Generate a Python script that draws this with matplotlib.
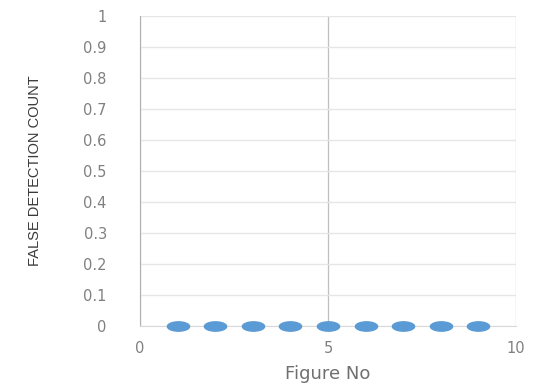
import numpy as np
import matplotlib
matplotlib.use("Agg")
import matplotlib.pyplot as plt
from matplotlib.path import Path

figure_no = [1, 2, 3, 4, 5, 6, 7, 8, 9]
false_detections = [0, 0, 0, 0, 0, 0, 0, 0, 0]
y_ticks = [0, 0.1, 0.2, 0.3, 0.4, 0.5, 0.6, 0.7, 0.8, 0.9, 1]
y_tick_labels = ["0", "0.1", "0.2", "0.3", "0.4", "0.5", "0.6", "0.7", "0.8", "0.9", "1"]
x_ticks = [0, 5, 10]

# wide, flat ellipse marker (the original picture is stretched horizontally)
t = np.linspace(0, 2 * np.pi, 60)
ellipse = Path(np.column_stack([np.cos(t), 0.42 * np.sin(t)]))

fig = plt.figure(figsize=(5.43, 3.89), dpi=100)
ax = fig.add_axes([0.258, 0.162, 0.692, 0.797])

ax.plot(figure_no, false_detections, linestyle="none", marker=ellipse,
        markersize=16, color="#5b9bd5", zorder=3, clip_on=False)

ax.set_xlim(0, 10)
ax.set_ylim(0, 1)
ax.set_xticks(x_ticks)
ax.set_yticks(y_ticks)
ax.set_yticklabels(y_tick_labels)

ax.grid(axis="y", color="#e6e6e6", linewidth=1.0)
ax.grid(axis="x", color="#bfbfbf", linewidth=0.9)
ax.set_axisbelow(True)

for side in ["top", "right"]:
    ax.spines[side].set_visible(False)
ax.spines["left"].set_color("#b0b0b0")
ax.spines["bottom"].set_color("#d9d9d9")

ax.tick_params(length=0, labelsize=10.5, labelcolor="#808080")
ax.tick_params(axis="y", pad=24)
ax.tick_params(axis="x", pad=11)
for lab in ax.get_xticklabels() + ax.get_yticklabels():
    lab.set_fontfamily("DejaVu Sans")

ax.set_xlabel("Figure No", fontsize=13, color="#707070", labelpad=6)
ax.set_ylabel("FALSE DETECTION COUNT", fontsize=10.5, color="#3a3a3a",
              family="Liberation Sans")
ax.yaxis.set_label_coords(-0.26, 0.5)

fig.savefig("out.png", dpi=100)
